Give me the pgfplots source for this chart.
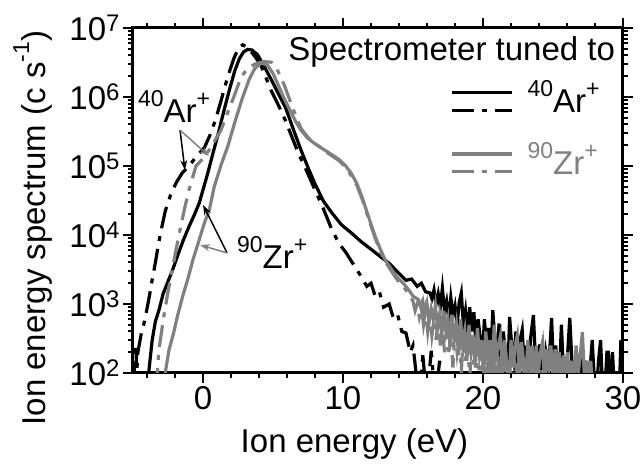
\documentclass[border=0pt]{standalone}
\usepackage{fontspec}
\setmainfont{Liberation Sans}
\usepackage{pgfplots}
\pgfplotsset{compat=1.18}
\usetikzlibrary{arrows.meta}
\newcommand{\tsup}[1]{\raisebox{9pt}{\fontsize{24}{24}\selectfont #1}}
\newcommand{\lsup}[1]{\raisebox{16pt}{\fontsize{23}{23}\selectfont #1}}
\definecolor{zrgray}{gray}{0.5}
\tikzset{dd/.style={dash pattern=on 22pt off 8pt on 5pt off 8pt}}
\begin{document}
\begin{tikzpicture}
\begin{axis}[
  at={(0,0)}, anchor=south west,
  width=490pt, height=345pt, scale only axis,
  ymode=log, xmin=-5, xmax=30, ymin=100, ymax=1e7,
  xtick={0,10,20,30}, xticklabels={0,10,20,30},
  minor xtick={-4,-2,2,4,6,8,12,14,16,18,22,24,26,28},
  ytick={1e2,1e3,1e4,1e5,1e6,1e7},
  yticklabels={10\tsup{2},10\tsup{3},10\tsup{4},10\tsup{5},10\tsup{6},10\tsup{7}},
  minor ytick={200,300,400,500,600,700,800,900,2000,3000,4000,5000,6000,7000,8000,9000,2e4,3e4,4e4,5e4,6e4,7e4,8e4,9e4,2e5,3e5,4e5,5e5,6e5,7e5,8e5,9e5,2e6,3e6,4e6,5e6,6e6,7e6,8e6,9e6},
  tick align=outside,
  major tick length=10pt, minor tick length=5pt,
  every major tick/.style={line width=2.5pt, black},
  every minor tick/.style={line width=2pt, black},
  axis line style={line width=3pt},
  font=\fontsize{33}{40}\selectfont,
  tick label style={font=\fontsize{33}{40}\selectfont},
  xlabel={Ion energy (eV)},
  ylabel={Ion energy spectrum (c s\lsup{-1})},
  xlabel style={at={(axis description cs:0.452,-0.229)}, anchor=base},
  ylabel style={at={(axis description cs:-0.205,0.42)}, anchor=center},
  clip=true,
]
% 40Ar+ tuned, solid
\addplot[black, line width=3.2pt] coordinates {
(-5,30) (-3.95,30) (-3.86,110) (-3.63,300) (-3.4,560) (-3.15,810) (-2.85,1400) (-2.55,2000) (-2.2,3000) (-1.83,4900) (-1.4,8500) (-1.0,1.32e4) (-0.6,2.0e4) (-0.27,2.9e4) (0,4.5e4) (0.35,8e4) (0.7,1.5e5) (1.1,3.0e5) (1.55,7e5) (1.9,1.3e6) (2.27,2.4e6) (2.6,3.6e6) (2.9,4.5e6) (3.2,4.9e6) (3.5,4.8e6) (3.9,4.1e6) (4.4,2.7e6) (4.9,1.75e6) (5.4,1.1e6) (5.9,7e5) (6.5,3.2e5) (7.0,1.7e5) (7.5,9.5e4) (8.0,5.5e4) (8.6,3.1e4) (9.2,2.1e4) (9.9,1.4e4) (10.6,1.07e4) (11.3,8e3) (12.1,6e3) (12.7,4.8e3) (13.3,3.9e3) (13.9,2.9e3) (14.5,2.2e3) (14.9,2.3e3) (15.3,1.8e3) (15.6,2.0e3) (15.9,1.5e3) (16.2,1.45e3)
(16.35,1200) (16.5,1600) (16.65,1000) (16.8,1400) (16.95,900) (17.1,1700) (17.25,800) (17.4,1100) (17.55,600) (17.7,1250) (17.85,700) (18.0,950) (18.15,500) (18.3,1050) (18.45,1450) (18.6,500) (18.75,800) (18.9,350) (19.05,900) (19.2,400) (19.35,760) (19.5,250) (19.65,600) (19.8,330) (19.95,150) (20.1,600) (20.25,250) (20.4,450) (20.55,150) (20.7,810) (20.85,300) (21.0,200) (21.15,520) (21.3,120) (21.45,400) (21.6,200) (21.75,60) (21.9,650) (22.05,250) (22.2,150) (22.35,400) (22.5,60) (22.65,300) (22.8,420) (22.95,120) (23.1,250) (23.25,60) (23.4,320) (23.6,690) (23.75,150) (23.9,60) (24.05,260) (24.2,120) (24.35,50) (24.5,200) (24.7,120) (24.9,630) (25.05,100) (25.2,250) (25.35,50) (25.5,150) (25.6,500) (25.75,100) (25.9,50) (26.05,200) (26.2,630) (26.35,150) (26.5,50) (26.65,150) (26.8,60) (26.95,100) (27.1,220) (27.25,50) (27.4,150) (27.55,60) (27.8,300) (27.95,80) (28.1,50) (28.25,150) (28.4,300) (28.55,50) (28.7,50) (28.85,200) (28.95,200) (29.1,50) (29.25,200) (29.4,50) (29.55,50) (29.7,30) (29.85,300) (30,60)
};
% 40Ar+ tuned, dash-dot
\addplot[black, line width=3.2pt, dd] coordinates {
(-5,30) (-4.95,150) (-4.88,90) (-4.8,230) (-4.72,110) (-4.65,200) (-4.58,240) (-4.4,380) (-4.22,520) (-4.0,850) (-3.8,1400) (-3.63,2240) (-3.4,4000) (-3.2,7000) (-3.04,1.05e4) (-2.7,2.2e4) (-2.32,3.8e4) (-1.9,5.8e4) (-1.47,8e4) (-1.0,1.0e5) (-0.5,1.35e5) (0.1,1.85e5) (0.5,2.8e5) (0.9,4.7e5) (1.3,9e5) (1.76,1.95e6) (2.2,3.6e6) (2.55,5.2e6) (2.84,5.7e6) (3.1,5.3e6) (3.5,4.4e6) (4.1,3.0e6) (4.5,1.9e6) (4.86,1.25e6) (5.4,7.5e5) (5.86,4.7e5) (6.3,2.8e5) (6.8,1.55e5) (7.4,8.5e4) (8.0,4.5e4) (8.6,2.4e4) (9.2,1.2e4) (9.7,7.6e3) (10.2,5.6e3) (10.8,3.6e3) (11.3,2.5e3) (11.7,1800) (12.0,2000) (12.3,1300) (12.6,1500) (12.9,900) (13.3,1000) (13.6,620) (13.9,700) (14.2,400) (14.5,380) (14.8,200) (15.0,250) (15.2,110) (15.4,40) (15.7,180) (16.0,40) (16.3,210) (16.6,40) (16.9,150) (17.2,30) (18,30)
};
% 90Zr+ tuned, solid
\addplot[zrgray, line width=3.2pt] coordinates {
(-5,30) (-2.75,30) (-2.68,105) (-2.43,215) (-2.1,380) (-1.83,660) (-1.45,1300) (-1.1,2240) (-0.7,4500) (-0.27,8500) (0.1,1.5e4) (0.45,2.3e4) (0.8,5e4) (1.3,1.05e5) (1.76,1.9e5) (2.3,4.5e5) (2.84,1.0e6) (3.3,1.8e6) (3.7,2.6e6) (4.16,3.1e6) (4.6,2.9e6) (5.0,2.2e6) (5.4,1.45e6) (5.8,9.5e5) (6.2,6.5e5) (6.6,4.5e5) (7.0,3.3e5) (7.5,2.5e5) (8.0,2.1e5) (8.5,1.8e5) (9.0,1.55e5) (9.7,1.25e5) (10.2,1.0e5) (10.6,7.8e4) (11.0,5.5e4) (11.35,3.6e4) (11.8,1.9e4) (12.3,9.5e3) (12.7,6e3) (13.0,4.4e3) (13.5,3.1e3) (13.9,2.4e3) (14.3,2.0e3) (14.7,1.6e3) (15.0,1.3e3) (15.4,1150)
(15.55,900) (15.7,1100) (15.85,700) (16.0,1000) (16.15,550) (16.3,850) (16.45,600) (16.6,950) (16.75,450) (16.9,700) (17.05,350) (17.2,800) (17.35,400) (17.5,600) (17.65,250) (17.8,700) (17.95,300) (18.1,500) (18.25,180) (18.4,600) (18.55,250) (18.7,400) (18.85,150) (19.0,500) (19.15,200) (19.3,350) (19.45,120) (19.6,450) (19.75,180) (19.9,300) (20.05,100) (20.2,400) (20.35,150) (20.5,300) (20.65,80) (20.8,500) (20.95,180) (21.1,250) (21.25,350) (21.4,100) (21.55,300) (21.7,130) (21.85,60) (22.0,300) (22.15,120) (22.3,250) (22.45,350) (22.6,100) (22.75,280) (22.9,150) (23.05,60) (23.2,300) (23.35,110) (23.5,250) (23.65,80) (23.8,250) (23.95,100) (24.1,200) (24.25,280) (24.4,70) (24.55,220) (24.7,120) (24.85,250) (25.0,80) (25.15,220) (25.3,90) (25.45,200) (25.6,60) (25.75,180) (25.9,100) (26.05,200) (26.2,60) (26.35,150) (26.5,80) (26.65,250) (26.8,100) (26.95,180) (27.1,390) (27.25,80) (27.4,150) (27.55,60) (27.7,150) (27.85,40) (28.0,100) (28.15,30)
};
% 90Zr+ tuned, dash-dot
\addplot[zrgray, line width=3.2pt, dd] coordinates {
(-5,30) (-3.3,30) (-3.27,100) (-3.15,215) (-2.8,660) (-2.5,1500) (-2.2,3100) (-1.9,6500) (-1.6,1.3e4) (-1.3,2.5e4) (-1.0,4.5e4) (-0.5,1.0e5) (0.1,1.35e5) (0.6,1.9e5) (1.28,3.3e5) (1.7,5.5e5) (2.2,1.0e6) (2.72,1.95e6) (3.2,2.6e6) (3.7,3.0e6) (4.3,3.25e6) (4.87,3.2e6) (5.3,2.5e6) (5.8,1.5e6) (6.2,9e5) (6.6,5.5e5) (7.0,3.5e5) (7.5,2.6e5) (8.0,2.1e5) (8.5,1.8e5) (9.0,1.5e5) (9.7,1.2e5) (10.2,9.5e4) (10.6,7.2e4) (11.0,5.2e4) (11.35,3.4e4) (11.8,1.8e4) (12.3,9e3) (12.7,5.6e3) (13.0,4.2e3) (13.5,2.9e3) (13.9,2.2e3) (14.3,1.8e3) (14.7,1.4e3) (15.0,1.1e3)
(15.15,800) (15.3,1000) (15.45,650) (15.6,900) (15.75,500) (15.9,800) (16.05,400) (16.2,750) (16.35,350) (16.5,600) (16.65,300) (16.8,650) (16.95,250) (17.1,500) (17.25,200) (17.4,550) (17.55,180) (17.7,400) (17.85,120) (18.0,450) (18.15,200) (18.3,350) (18.45,100) (18.6,400) (18.75,150) (18.9,300) (19.05,80) (19.2,350) (19.35,130) (19.5,250) (19.65,60) (19.8,300) (19.95,110) (20.1,220) (20.25,50) (20.4,250) (20.55,100) (20.7,200) (20.85,50) (21.0,220) (21.15,90) (21.3,180) (21.45,40) (21.6,200) (21.75,80) (21.9,150) (22.05,40) (22.2,180) (22.35,70) (22.5,140) (22.65,40) (22.8,160) (22.95,60) (23.1,120) (23.25,30) (23.4,150) (23.6,40) (23.8,120) (24.0,30) (24.2,110) (24.4,30) (24.6,30)
};
% legend
\node[anchor=base east, inner sep=0pt] at (rel axis cs:0.984,0.907) {Spectrometer tuned to};
\draw[black, line width=3.2pt] (rel axis cs:0.651,0.814) -- (rel axis cs:0.773,0.814);
\draw[black, line width=3.2pt, dd] (rel axis cs:0.651,0.762) -- (rel axis cs:0.773,0.762);
\node[anchor=base west, inner sep=0pt] at (rel axis cs:0.805,0.754) {\lsup{40}Ar\lsup{+}};
\draw[zrgray, line width=3.2pt] (rel axis cs:0.651,0.635) -- (rel axis cs:0.773,0.635);
\draw[zrgray, line width=3.2pt, dd] (rel axis cs:0.651,0.583) -- (rel axis cs:0.773,0.583);
\node[anchor=base west, inner sep=0pt, text=zrgray] at (rel axis cs:0.805,0.574) {\lsup{90}Zr\lsup{+}};
% annotations
\node[anchor=base west, inner sep=0pt] at (rel axis cs:0.010,0.725) {\lsup{40}Ar\lsup{+}};
\draw[black, line width=1.5pt, -{Stealth[length=10pt,width=7pt]}] (rel axis cs:0.096,0.704) -- (rel axis cs:0.106,0.588);
\draw[zrgray, line width=1.5pt, -{Stealth[length=10pt,width=7pt]}] (rel axis cs:0.096,0.704) -- (rel axis cs:0.155,0.629);
\node[anchor=base west, inner sep=0pt] at (rel axis cs:0.212,0.304) {\lsup{90}Zr\lsup{+}};
\draw[black, line width=1.5pt, -{Stealth[length=10pt,width=7pt]}] (rel axis cs:0.192,0.348) -- (rel axis cs:0.143,0.487);
\draw[zrgray, line width=1.5pt, -{Stealth[length=10pt,width=7pt]}] (rel axis cs:0.192,0.348) -- (rel axis cs:0.137,0.371);
\end{axis}
\pgfresetboundingbox
\path[use as bounding box] (-133pt,-92pt) rectangle (508pt,373pt);
\end{tikzpicture}
\end{document}
